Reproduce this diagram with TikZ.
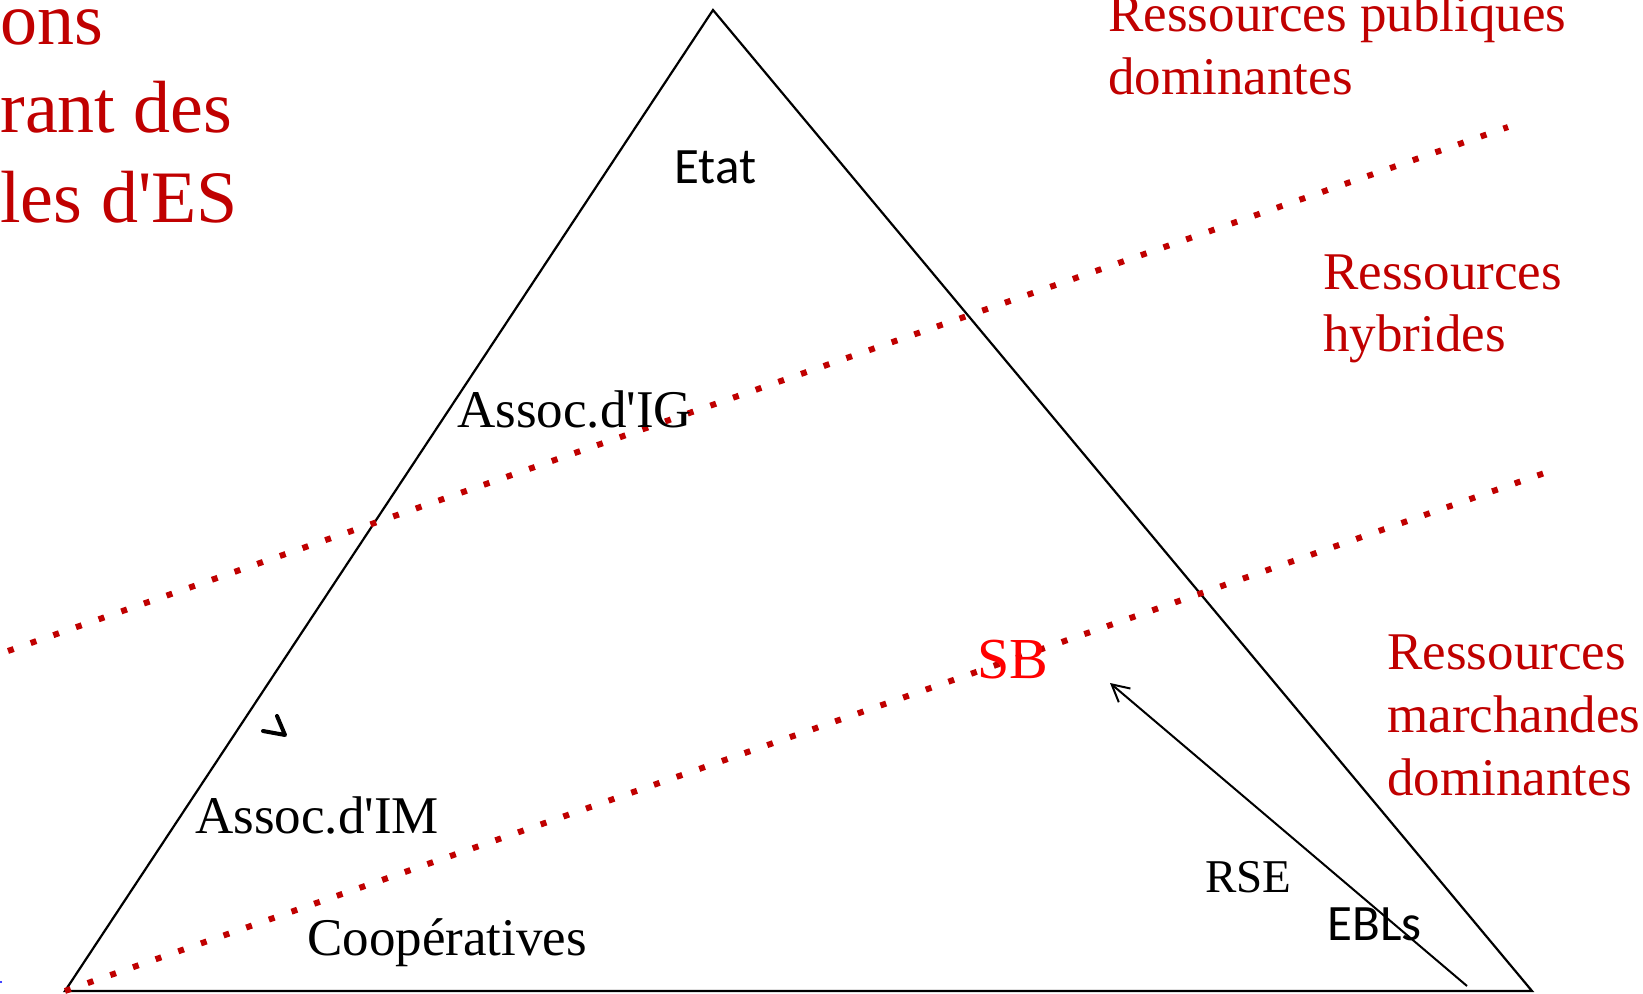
\documentclass[tikz,border=0pt]{standalone}
\usepackage{fontspec}
\setmainfont{Liberation Serif}
\newfontfamily\calibri{Carlito}
\usetikzlibrary{arrows.meta}
\definecolor{resred}{HTML}{C00000}
\newcommand{\q}{\textquotesingle}
\tikzset{
  lbl/.style={anchor=base west, inner sep=0pt, font=\fontsize{26.5}{31.5}\selectfont},
  reslbl/.style={lbl, text=resred, align=left},
  limit/.style={resred, line width=3pt, dash pattern=on 3pt off 9pt}
}
\begin{document}
\begin{tikzpicture}[x=0.5pt,y=-0.5pt]
        \useasboundingbox (0,0) rectangle (1643,994);
        % triangle
        \coordinate (apex) at (713,10);
        \coordinate (left) at (65,991);
        \coordinate (right) at (1532,991);
        \draw[line width=1.1pt] (apex) -- (right) -- (left) -- cycle;
        % two dotted limits between the kinds of resources
        \draw[limit] (8,651) -- (1508,127);
        \draw[limit] (left) -- (1556,469);

        % title, cut on the left
        \node[lbl, text=resred, font=\fontsize{37}{44.5}\selectfont] (t1) at (0,45) {ons};
        \node[lbl, text=resred, font=\fontsize{37}{44.5}\selectfont] (t2) at (0,133) {rant des};
        \node[lbl, text=resred, font=\fontsize{37}{44.5}\selectfont] (t3) at (0,223) {les d\q ES};

        % resources (base = last line)
        \node[reslbl] (pub) at (1108,95) {Ressources publiques\\dominantes};
        \node[reslbl] (hyb) at (1323,352) {Ressources\\hybrides};
        \node[reslbl] (mar) at (1387,795) {Ressources\\marchandes\\dominantes};

        % organisations
        \node[lbl, font=\fontsize{25.5}{30}\calibri] (etat) at (674,184) {Etat};
        \node[lbl] (ig) at (457,428) {Assoc.d\q IG};
        \node[lbl] (im) at (195,833) {Assoc.d\q IM};
        \node[lbl] (coop) at (307,955) {Coopératives};
        \node[lbl, font=\fontsize{23.5}{28}\selectfont] (rse) at (1205,892) {RSE};
        \node[lbl, font=\fontsize{25.5}{30}\calibri] (ebl) at (1327,940) {EBLs};
        \node[lbl, text=red, font=\fontsize{29}{34}\selectfont] (sb) at (977,678) {SB};

        % arrow from EBLs up to SB
        \coordinate (ebltail) at (1467,986);
        \coordinate (sbhead) at (1110,683);
        \draw[line width=1pt, -{Straight Barb[length=8.5pt,width=9pt]}] (ebltail) -- (sbhead);

        % small marks
        \draw[line width=2pt, line cap=round, line join=round] (277,716) -- (285,735) -- (263,731);
        \fill[blue] (1,982) circle (1.2);
\end{tikzpicture}
\end{document}
